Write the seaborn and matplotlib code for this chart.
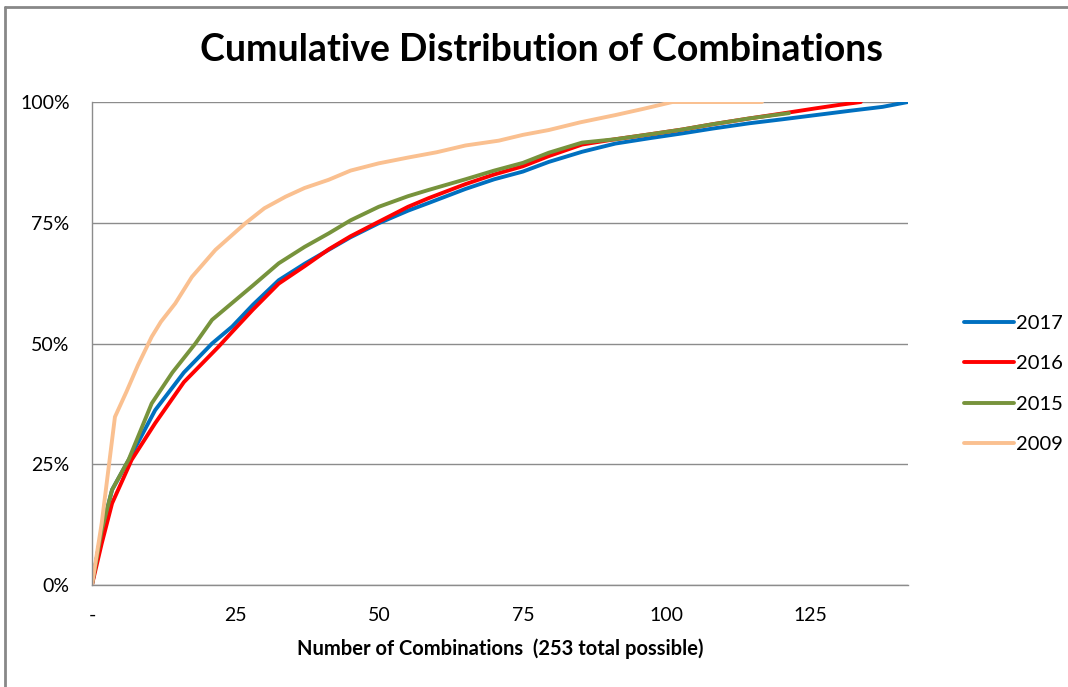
import pandas as pd
import seaborn as sns
import matplotlib.pyplot as plt
from matplotlib.lines import Line2D
from matplotlib.ticker import PercentFormatter

# Data (x = number of combinations, y = cumulative %)
x_2017 = [0, 1.7, 3.5, 6.4, 11, 16, 20.9, 24.4, 28, 32.5, 37, 41.2, 45, 49.9, 55, 58.6, 65, 70, 75, 79.5, 85.3, 91.1, 97, 102.7, 108, 114.4, 120, 126, 132, 137.6, 142]
y_2017 = [0, 11.4, 19.7, 25.9, 36.2, 44, 50, 53.5, 58, 63.1, 66.5, 69.4, 72, 74.9, 77.5, 79.1, 82, 84, 85.6, 87.6, 89.7, 91.4, 92.5, 93.5, 94.5, 95.6, 96.4, 97.3, 98.2, 99, 100]
x_2016 = [0, 1.7, 3.5, 6.9, 11, 16, 22, 24.4, 28, 32.5, 37, 41.2, 45, 49.9, 55, 58.6, 65, 70, 75, 79.5, 85.3, 91.1, 97, 102.7, 108, 114.4, 120, 126, 130, 133.8]
y_2016 = [0, 8.6, 16.9, 25.9, 33.5, 42, 49.3, 52.4, 57, 62.4, 66, 69.5, 72.2, 75.2, 78.3, 80.1, 83, 85, 86.7, 88.8, 91.2, 92.3, 93.3, 94.3, 95.4, 96.6, 97.6, 98.7, 99.4, 100]
x_2015 = [0, 1.7, 3.5, 6.4, 10.4, 14, 18, 20.9, 25, 28, 32.5, 37, 41.2, 45, 49.9, 55, 58.6, 65, 70, 75, 79.5, 85.3, 91.1, 97, 102.7, 108, 114.4, 121.3]
y_2015 = [0, 11.4, 19.7, 26, 37.6, 44, 50, 54.9, 59, 62, 66.6, 70, 72.8, 75.5, 78.3, 80.5, 81.8, 84, 85.8, 87.4, 89.5, 91.6, 92.3, 93.3, 94.3, 95.4, 96.6, 97.7]
x_2009 = [0, 1.7, 4, 6, 8, 10.4, 12, 14.5, 17.4, 21.5, 26.7, 30, 33.7, 37, 41.2, 45, 49.9, 55, 60, 65, 70.8, 75, 79.5, 85, 91.1, 96, 101, 116.6]
y_2009 = [0, 12.8, 34.8, 40, 45.5, 51.4, 54.5, 58.3, 63.8, 69.4, 74.9, 78, 80.4, 82.2, 83.9, 85.8, 87.3, 88.5, 89.6, 91, 92, 93.2, 94.2, 95.8, 97.3, 98.6, 100, 100]

years = ["2017", "2016", "2015", "2009"]
colors = ["#0070C0", "#FF0000", "#77933C", "#FAC090"]
x_ticks = [0, 25, 50, 75, 100, 125]
x_tick_labels = ["-", "25", "50", "75", "100", "125"]

frames = []
for yr, xs, ys in zip(years, [x_2017, x_2016, x_2015, x_2009],
                      [y_2017, y_2016, y_2015, y_2009]):
    frames.append(pd.DataFrame({"combos": xs, "pct": ys, "year": yr}))
df = pd.concat(frames, ignore_index=True)

sns.set_style("white")
plt.rcParams["font.family"] = ["Lato", "DejaVu Sans"]
plt.rcParams["text.color"] = "black"
plt.rcParams["axes.labelcolor"] = "black"

fig = plt.figure(figsize=(10.68, 6.87), dpi=100)
ax = fig.add_axes([0.0861, 0.1485, 0.764, 0.703])

sns.lineplot(data=df, x="combos", y="pct", hue="year", hue_order=years,
             palette=dict(zip(years, colors)), sort=False, estimator=None,
             linewidth=2.8, ax=ax)

ax.set_xlim(0, 142)
ax.set_ylim(0, 100)
ax.set_yticks([0, 25, 50, 75, 100])
ax.yaxis.set_major_formatter(PercentFormatter(100, decimals=0))
ax.set_xticks(x_ticks)
ax.set_xticklabels(x_tick_labels)
ax.grid(axis="y", color="#8c8c8c", linewidth=1)
ax.set_axisbelow(True)
for side in ["top", "right"]:
    ax.spines[side].set_visible(False)
for side in ["left", "bottom"]:
    ax.spines[side].set_color("#8c8c8c")
    ax.spines[side].set_linewidth(1)
ax.tick_params(axis="both", colors="#8c8c8c", labelcolor="black",
               labelsize=14, length=5, width=1, direction="out")
ax.tick_params(axis="x", pad=11)
ax.tick_params(axis="y", pad=11)

ax.set_xlabel("Number of Combinations  (253 total possible)",
              fontsize=14.5, fontweight="bold", labelpad=10)
ax.set_ylabel("")
fig.suptitle("Cumulative Distribution of Combinations", x=0.507, y=0.927,
             va="center", fontsize=27, fontweight="bold")

ax.legend(loc="center left", bbox_to_anchor=(1.046, 0.416), frameon=False,
          fontsize=14.5, handlelength=2.5, handletextpad=0.1,
          labelspacing=1.15)

# outer chart frame (left and top edges visible in the reference)
fig.add_artist(Line2D([5.5 / 1068, 5.5 / 1068], [0, 1 - 7 / 687],
                      transform=fig.transFigure, color="#888888", linewidth=2))
fig.add_artist(Line2D([5.5 / 1068, 1], [1 - 7 / 687, 1 - 7 / 687],
                      transform=fig.transFigure, color="#888888", linewidth=2))

fig.savefig("out.png", dpi=100)
